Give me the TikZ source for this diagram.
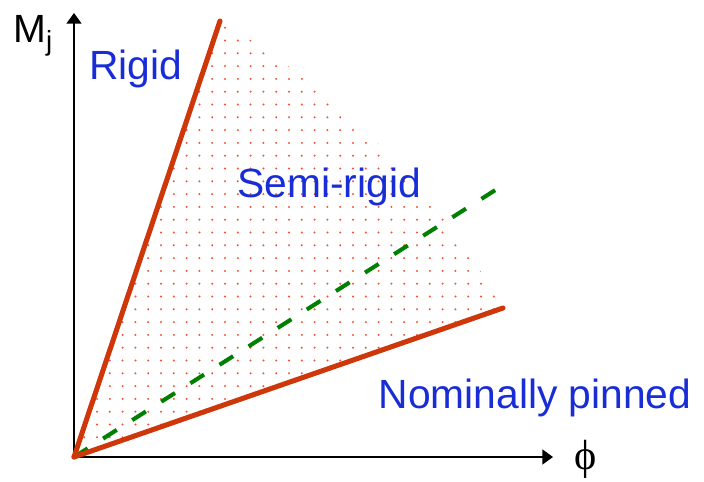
\documentclass[tikz,border=0pt]{standalone}
\usepackage{fontspec}
\setmainfont{Liberation Sans}
\newfontfamily\phifont{Liberation Serif}
\usetikzlibrary{arrows.meta, positioning}

\definecolor{jointred}{RGB}{205,55,10}
\definecolor{dotred}{RGB}{240,85,55}
\definecolor{labelblue}{RGB}{25,45,215}
\definecolor{dashgreen}{RGB}{0,128,0}

\begin{document}
\begin{tikzpicture}[
    x=0.025cm, y=0.025cm,
    axis/.style={line width=1.4pt, -{Triangle[length=7.5pt, width=10.5pt]}},
    bound/.style={line width=3.6pt, jointred, line cap=round},
    guide/.style={line width=2.9pt, dashgreen, dash pattern=on 11.5pt off 13pt},
    zone/.style={font=\fontsize{29}{34}\selectfont, text=labelblue,
                 inner sep=0pt, anchor=base},
    >=Stealth
  ]
  \useasboundingbox (-74,-24) rectangle (630,457);

  \coordinate (O) at (0,0);
  \coordinate (T) at (146,436);
  \coordinate (L) at (429,149);
  \coordinate (G) at (423,268);
  \coordinate (ytip) at (0,444);
  \coordinate (xtip) at (479,0);

  % axes
  \draw[axis] (O) -- (ytip);
  \draw[axis] (O) -- (xtip);
  \node[font=\fontsize{28}{32}\selectfont, inner sep=0pt, anchor=base west]
    (mj) at (-61,414) {M\textsubscript{j}};
  \node[font=\phifont\fontsize{30}{34}\selectfont, inner sep=0pt, anchor=base]
    (phi) at (512,-12) {\symbol{"03D5}};

  % dotted semi-rigid zone
  \begin{scope}
    \clip (O) -- (T) .. controls (266,365) and (360,269) .. (L) -- cycle;
    \foreach \i in {-12,...,22} {
      \foreach \j in {-3,...,32} {
        \fill[dotred] (151+12.8*\i, 403.7-12.8*\j) circle (0.8pt);
      }
    }
  \end{scope}

  \draw[guide] (O) -- (G);
  \draw[bound] (O) -- (T);
  \draw[bound] (O) -- (L);

  \node[zone] (rigid) at (61.5,377) {Rigid};
  \node[zone] (semi) at (255,259) {Semi-rigid};
  \node[zone] (pinned) at (461,49) {Nominally pinned};
\end{tikzpicture}
\end{document}
